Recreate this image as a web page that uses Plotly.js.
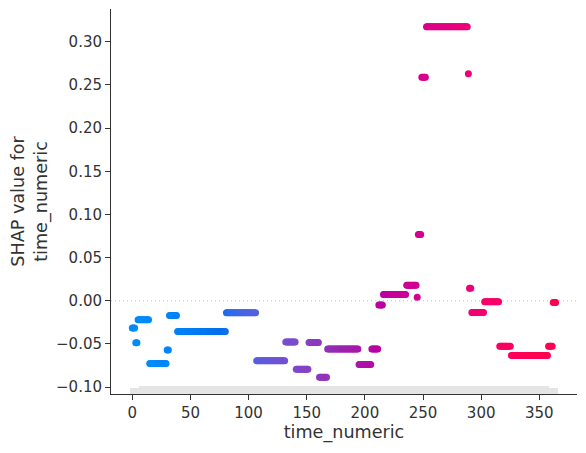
<!DOCTYPE html>
<html>
<head>
<meta charset="utf-8">
<script src="https://cdn.plot.ly/plotly-3.0.1.min.js"></script>
<style>
  html, body { margin: 0; padding: 0; background: #ffffff; }
  #chart { width: 586px; height: 453px; }
</style>
</head>
<body>
<div id="chart"></div>
<script>
// Runs of consecutive days that share the same SHAP value for time_numeric
const runFirstDay = [0, 3, 5, 15, 30, 32, 39, 81, 107, 132, 141, 152, 161, 168, 195, 206, 212, 216, 236, 245, 246, 249, 253, 289, 290, 292, 303, 316, 326, 358, 362];
const runLastDay  = [2, 4, 14, 29, 31, 38, 80, 106, 131, 140, 151, 160, 167, 194, 205, 211, 215, 235, 244, 245, 248, 252, 288, 289, 291, 302, 315, 325, 357, 361, 364];
const runShap     = [-0.0314, -0.0485, -0.0220, -0.0727, -0.0570, -0.0170, -0.0355, -0.0140, -0.0696, -0.0477,
                     -0.0792, -0.0483, -0.0885, -0.0560, -0.0738, -0.0560, -0.0050, 0.0072, 0.0179, 0.0040,
                     0.0768, 0.2590, 0.3175, 0.2630, 0.0144, -0.0137, -0.0010, -0.0528, -0.0633, -0.0528, -0.0020];

// Histogram of time_numeric underneath the scatter (50 equal bins)
const histStart = -2;
const histEnd = 366;
const histCounts = [24, 30, 30, 30, 30, 30, 30, 30, 30, 30,
                    30, 30, 30, 30, 30, 30, 30, 30, 30, 30,
                    30, 30, 30, 30, 30, 30, 30, 30, 30, 30,
                    30, 30, 30, 30, 30, 30, 30, 30, 30, 30,
                    30, 30, 30, 30, 30, 30, 30, 30, 30, 24];

// Axis ticks
const xTickValues = [0, 50, 100, 150, 200, 250, 300, 350];
const yTickValues = [-0.10, -0.05, 0.00, 0.05, 0.10, 0.15, 0.20, 0.25, 0.30];

// One point per day
const days = [];
const shapValues = [];
for (let i = 0; i < runFirstDay.length; i++) {
  for (let d = runFirstDay[i]; d <= runLastDay[i]; d++) {
    days.push(d);
    shapValues.push(runShap[i]);
  }
}

const binWidth = (histEnd - histStart) / histCounts.length;
const binCenters = histCounts.map((_, i) => histStart + binWidth * (i + 0.5));
const totalCount = histCounts.reduce((a, b) => a + b, 0);

function percentile(arr, p) {
  const s = arr.slice().sort((a, b) => a - b);
  const pos = (s.length - 1) * p / 100;
  const lo = Math.floor(pos), hi = Math.ceil(pos);
  return s[lo] + (s[hi] - s[lo]) * (pos - lo);
}

// SHAP red-blue colour map: interpolation in LCH space
function lchToRgb(l, c, h) {
  const a = c * Math.cos(h), b = c * Math.sin(h);
  const fy = (l + 16) / 116, fx = fy + a / 500, fz = fy - b / 200;
  const d = 6 / 29;
  const finv = t => (t > d ? t * t * t : 3 * d * d * (t - 4 / 29));
  const X = 0.95047 * finv(fx), Y = finv(fy), Z = 1.08883 * finv(fz);
  const lin = [
    3.2406 * X - 1.5372 * Y - 0.4986 * Z,
    -0.9689 * X + 1.8758 * Y + 0.0415 * Z,
    0.0557 * X - 0.2040 * Y + 1.0570 * Z
  ];
  const out = lin.map(v => {
    v = v <= 0.0031308 ? 12.92 * v : 1.055 * Math.pow(Math.max(v, 0), 1 / 2.4) - 0.055;
    return Math.round(Math.min(1, Math.max(0, v)) * 255);
  });
  return 'rgb(' + out.join(',') + ')';
}

function shapRedBlue() {
  const blue = [54, 70, 4.6588], red = [54, 90, 0.35470565 + 2 * Math.PI], lMid = 40;
  const steps = 100, half = steps / 2;
  const scale = [];
  for (let i = 0; i < steps; i++) {
    const t = i / (steps - 1);
    const l = i < half
      ? blue[0] + (lMid - blue[0]) * (i / (half - 1))
      : lMid + (red[0] - lMid) * ((i - half) / (half - 1));
    const c = blue[1] + (red[1] - blue[1]) * t;
    const h = blue[2] + (red[2] - blue[2]) * t;
    scale.push([t, lchToRgb(l, c, h)]);
  }
  return scale;
}

const textColor = '#333333';
const fontFamily = '"DejaVu Sans", "Liberation Sans", sans-serif';

const histTrace = {
  type: 'bar',
  x: binCenters,
  y: histCounts,
  width: binWidth,
  marker: { color: 'rgba(0,0,0,0.1)', line: { width: 0 } },
  yaxis: 'y2',
  hoverinfo: 'skip',
  showlegend: false
};

const pointTrace = {
  type: 'scatter',
  mode: 'markers',
  x: days,
  y: shapValues,
  marker: {
    size: 7,
    color: days,
    colorscale: shapRedBlue(),
    cmin: percentile(days, 5),
    cmax: percentile(days, 95),
    showscale: false,
    line: { width: 0 }
  },
  showlegend: false
};

const layout = {
  width: 586,
  height: 453,
  margin: { l: 111, r: 9, t: 9, b: 59, pad: 0 },
  paper_bgcolor: '#ffffff',
  plot_bgcolor: '#ffffff',
  font: { family: fontFamily, color: textColor, size: 15 },
  bargap: 0,
  xaxis: {
    range: [-18.3, 382.4],
    tickmode: 'array',
    tickvals: xTickValues,
    ticks: 'outside',
    ticklen: 5,
    tickwidth: 1,
    tickcolor: textColor,
    tickfont: { size: 15, color: textColor },
    showline: true,
    linecolor: textColor,
    linewidth: 1,
    showgrid: false,
    zeroline: false,
    title: { text: 'time_numeric', font: { size: 17.6, color: textColor }, standoff: 4 }
  },
  yaxis: {
    range: [-0.108, 0.338],
    tickmode: 'array',
    tickvals: yTickValues,
    tickformat: '.2f',
    ticks: 'outside',
    ticklen: 5,
    tickwidth: 1,
    tickcolor: textColor,
    tickfont: { size: 15, color: textColor },
    showline: true,
    linecolor: textColor,
    linewidth: 1,
    showgrid: false,
    zeroline: false,
    title: { text: 'SHAP value for<br>time_numeric', font: { size: 17.6, color: textColor }, standoff: 3 }
  },
  yaxis2: {
    overlaying: 'y',
    range: [0, totalCount],
    visible: false,
    fixedrange: true
  },
  shapes: [{
    type: 'line',
    xref: 'paper', x0: 0, x1: 1,
    yref: 'y', y0: 0, y1: 0,
    line: { color: '#c4c4c4', width: 1, dash: '1px,3px' },
    layer: 'below'
  }]
};

Plotly.newPlot('chart', [histTrace, pointTrace], layout, { displayModeBar: false, staticPlot: true });
</script>
</body>
</html>
